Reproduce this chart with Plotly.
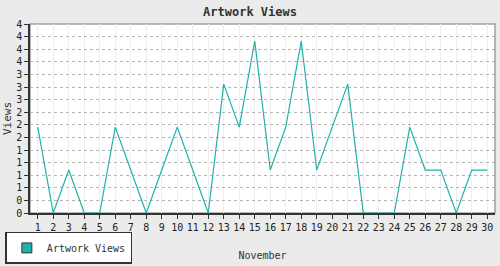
import plotly.graph_objects as go

days = list(range(1, 31))
views = [2, 0, 1, 0, 0, 2, 1, 0, 1, 2, 1, 0, 3, 2, 4, 1, 2, 4, 1, 2, 3, 0, 0, 0, 2, 1, 1, 0, 1, 1]
y_tick_labels = ["0", "0", "1", "1", "1", "1", "2", "2", "2", "3", "3", "3", "4", "4", "4", "4"]
series_name = "Artwork Views"

y_max = 4.4
n = len(y_tick_labels) - 1
y_tick_vals = [y_max * i / n for i in range(n + 1)]

color = "#20B2AA"
font_mono = "DejaVu Sans Mono"

fig = go.Figure()
fig.add_trace(go.Scatter(x=days, y=views, mode="lines", line=dict(color=color, width=1.2),
                         name=series_name, showlegend=False))
fig.add_trace(go.Scatter(x=[None], y=[None], mode="markers", name=series_name,
                         marker=dict(symbol="square", size=10, color=color,
                                     line=dict(color="#333333", width=1))))

fig.update_layout(
    width=500, height=266,
    margin=dict(l=30, r=5, t=24, b=53, autoexpand=False),
    paper_bgcolor="#EBEBEB",
    plot_bgcolor="#FFFFFF",
    title=dict(text="<b>Artwork Views</b>", x=0.5, xanchor="center", y=0.955, yanchor="middle",
               font=dict(family=font_mono, size=12, color="#333333")),
    font=dict(family=font_mono, size=10, color="#222222"),
    showlegend=True,
    legend=dict(x=-0.053, xanchor="left", y=-0.10, yanchor="top", bgcolor="#FFFFFF",
                bordercolor="#333333", borderwidth=1.5,
                font=dict(family=font_mono, size=10, color="#333333"),
                itemwidth=30, tracegroupgap=0),
    shapes=[dict(type="rect", xref="paper", yref="paper", x0=0, x1=1, y0=0, y1=1,
                 line=dict(color="#A0A0A0", width=1.5), layer="below")],
)
fig.update_xaxes(
    range=[0.5, 30.5], tickmode="array", tickvals=days, ticktext=[str(d) for d in days],
    showgrid=True, gridcolor="#EEEEEE", gridwidth=1,
    showline=True, linecolor="#333333", linewidth=1.5,
    ticks="outside", ticklen=4, tickcolor="#333333",
    tickfont=dict(size=10), zeroline=False,
    title=dict(text="November", font=dict(size=10, color="#333333"), standoff=20),
)
fig.update_yaxes(
    range=[0, y_max], tickmode="array", tickvals=y_tick_vals, ticktext=y_tick_labels,
    showgrid=True, gridcolor="#B4B4B4", gridwidth=1, griddash="dot",
    showline=True, linecolor="#333333", linewidth=1.5,
    ticks="outside", ticklen=4, tickcolor="#333333",
    tickfont=dict(size=10), zeroline=False,
    title=dict(text="Views", font=dict(size=11, color="#333333"), standoff=2),
)

fig.write_html("out.html")
